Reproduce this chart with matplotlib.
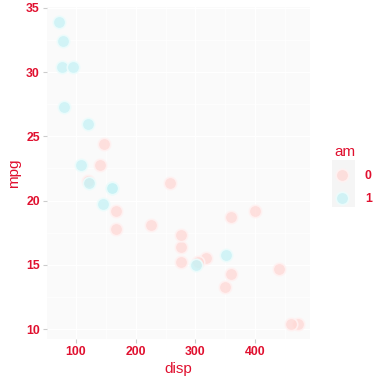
import matplotlib

matplotlib.use("Agg")
import matplotlib.pyplot as plt  # noqa: E402
from matplotlib.lines import Line2D  # noqa: E402
from matplotlib.patches import Rectangle  # noqa: E402

# mtcars: displacement vs fuel economy, grouped by transmission
disp = [160, 160, 108, 258, 360, 225, 360, 146.7, 140.8, 167.6, 167.6, 275.8,
        275.8, 275.8, 472, 460, 440, 78.7, 75.7, 71.1, 120.1, 318, 304, 350,
        400, 79, 120.3, 95.1, 351, 145, 301, 121]
mpg = [21.0, 21.0, 22.8, 21.4, 18.7, 18.1, 14.3, 24.4, 22.8, 19.2, 17.8, 16.4,
       17.3, 15.2, 10.4, 10.4, 14.7, 32.4, 30.4, 33.9, 21.5, 15.5, 15.2, 13.3,
       19.2, 27.3, 26.0, 30.4, 15.8, 19.7, 15.0, 21.4]
am = [1, 1, 1, 0, 0, 0, 0, 0, 0, 0, 0, 0, 0, 0, 0, 0, 0, 1, 1, 1, 0, 0, 0, 0,
      0, 1, 1, 1, 1, 1, 1, 1]
am_levels = ["0", "1"]
x_ticks = [100, 200, 300, 400]
y_ticks = [10, 15, 20, 25, 30, 35]

TEXT = "#E0102F"
FILLS = {"0": (1.0, 0.85, 0.84, 0.8), "1": (0.78, 0.95, 0.96, 0.8)}
EDGES = {"0": (1.0, 0.95, 0.95, 0.9), "1": (0.93, 0.99, 0.99, 0.9)}

plt.rcParams["font.family"] = ["Liberation Sans", "DejaVu Sans"]

fig = plt.figure(figsize=(3.84, 3.84), dpi=100)
ax = fig.add_axes([0.122, 0.117, 0.685, 0.865])
ax.set_facecolor("#FAFAFA")

for lvl in am_levels:
    xs = [d for d, a in zip(disp, am) if str(a) == lvl]
    ys = [m for m, a in zip(mpg, am) if str(a) == lvl]
    ax.scatter(xs, ys, s=80, facecolor=FILLS[lvl], edgecolor=EDGES[lvl],
               linewidth=1.2, zorder=3)

span_x = max(disp) - min(disp)
span_y = max(mpg) - min(mpg)
ax.set_xlim(min(disp) - 0.05 * span_x, max(disp) + 0.05 * span_x)
ax.set_ylim(min(mpg) - 0.05 * span_y, max(mpg) + 0.05 * span_y)

ax.set_xticks(x_ticks)
ax.set_yticks(y_ticks)
ax.set_xticks([150, 250, 350, 450], minor=True)
ax.set_yticks([12.5, 17.5, 22.5, 27.5, 32.5], minor=True)
ax.grid(True, which="major", color="white", linewidth=1.0, zorder=0)
ax.grid(True, which="minor", color="white", linewidth=0.5, zorder=0)
ax.set_axisbelow(True)
for sp in ax.spines.values():
    sp.set_visible(False)
ax.tick_params(which="major", length=3, color="#CCCCCC", labelcolor=TEXT,
               labelsize=8.8, pad=2)
ax.tick_params(which="minor", length=0)
for lab in ax.get_xticklabels() + ax.get_yticklabels():
    lab.set_fontweight("bold")

ax.set_xlabel("disp", color=TEXT, fontsize=11, labelpad=3)
ax.set_ylabel("mpg", color=TEXT, fontsize=11, labelpad=4)

# grey backdrop behind the legend keys
fig.patches.append(Rectangle((0.865, 0.461), 0.059, 0.122,
                             transform=fig.transFigure, facecolor="#F5F5F5",
                             edgecolor="none", zorder=0))

handles = [Line2D([], [], linestyle="none", marker="o", markersize=9,
                  markerfacecolor=FILLS[lvl], markeredgecolor=EDGES[lvl],
                  markeredgewidth=1.2) for lvl in am_levels]
leg = fig.legend(handles, am_levels, title="am", loc="upper left",
                 bbox_to_anchor=(0.858, 0.635), frameon=False,
                 title_fontsize=11, labelcolor=TEXT,
                 handlelength=1.2, handletextpad=1.3, labelspacing=0.9,
                 borderaxespad=0, prop={"weight": "bold", "size": 8.8})
leg.get_title().set_color(TEXT)
leg._legend_box.align = "left"

fig.savefig("out.png", dpi=100)
